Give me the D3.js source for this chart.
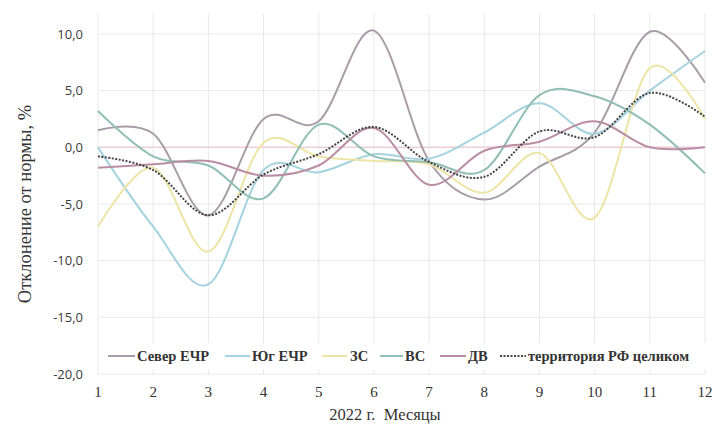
<!DOCTYPE html>
<html><head><meta charset="utf-8">
<script src="https://cdn.jsdelivr.net/npm/d3@7"></script>
<style>body{margin:0;background:#fff}svg{display:block}.serif{font-family:'Liberation Serif','Times New Roman',serif}</style>
</head><body><svg id="c" width="717" height="426"></svg>
<script>
const months = [1,2,3,4,5,6,7,8,9,10,11,12];
const yTicks = [10,5,0,-5,-10,-15,-20];
const seriesNames = ["Север ЕЧР","Юг ЕЧР","ЗС","ВС","ДВ","территория РФ целиком"];
const sever = [1.5,1.2,-6.0,2.5,2.3,10.3,-1.2,-4.6,-1.7,1.3,10.2,5.7];
const yug   = [0.0,-7.0,-12.1,-2.0,-2.2,-0.6,-1.0,1.3,3.9,1.2,5.0,8.5];
const zs    = [-7.0,-1.8,-9.2,0.4,-0.8,-1.2,-1.5,-4.0,-0.5,-6.2,7.0,2.5];
const vs    = [3.2,-0.8,-1.6,-4.5,2.0,-0.8,-1.3,-2.0,4.6,4.5,2.0,-2.3];
const dv    = [-1.8,-1.5,-1.2,-2.5,-1.6,1.7,-3.3,-0.3,0.5,2.3,0.0,0.0];
const rf    = [-0.8,-2.0,-6.0,-2.4,-0.6,1.8,-1.3,-2.6,1.4,0.9,4.8,2.7];
const seriesValues = [sever,yug,zs,vs,dv,rf];
const colors = ["#a89ca9","#a3d3de","#eee4a6","#8fbfb2","#b98ea3","#444444"];

const svg = d3.select("#c");
const x = d3.scaleLinear().domain([1,12]).range([98,705]);
const y = d3.scaleLinear().domain([-20,10]).range([374,34]);
const yTop = y(11.8);

svg.append("g").selectAll("line").data(months).join("line")
  .attr("x1",d=>x(d)).attr("x2",d=>x(d)).attr("y1",yTop).attr("y2",y(-20))
  .attr("stroke","#e8e8e8").attr("stroke-width",1);
svg.append("g").selectAll("line").data(yTicks).join("line")
  .attr("x1",x(1)).attr("x2",x(12)).attr("y1",d=>y(d)).attr("y2",d=>y(d))
  .attr("stroke",d=>d===0?"#ecd0d4":"#e8e8e8").attr("stroke-width",d=>d===0?1.5:1);

svg.append("g").selectAll("text").data(yTicks).join("text")
  .attr("x",83).attr("y",d=>y(d)+4.5).attr("text-anchor","end")
  .attr("font-family","Open Sans, sans-serif").attr("font-size",13).attr("fill","#3a3a3a")
  .text(d=>d3.format(".1f")(d).replace(".",",").replace("−","-"));
svg.append("g").selectAll("text").data(months).join("text").attr("class","serif")
  .attr("x",d=>x(d)).attr("y",397).attr("text-anchor","middle")
  .attr("font-size",15).attr("fill","#333")
  .text(d=>d);
svg.append("text").attr("class","serif").attr("x",385).attr("y",420).attr("text-anchor","middle")
  .attr("font-size",16.5).attr("fill","#333")
  .attr("xml:space","preserve").text("2022 г.  Месяцы");
svg.append("text").attr("class","serif").attr("transform","translate(31,"+y(-5)+") rotate(-90)")
  .attr("text-anchor","middle")
  .attr("font-size",18.5).attr("fill","#333").text("Отклонение от нормы, %");

const line = d3.line().x((d,i)=>x(months[i])).y(d=>y(d)).curve(d3.curveCardinal.tension(0));
seriesValues.forEach((vals,i)=>{
  svg.append("path").datum(vals).attr("d",line).attr("fill","none")
    .attr("stroke",colors[i]).attr("stroke-width",2)
    .attr("stroke-dasharray",i===5?"2,1.5":null);
});

const leg = svg.append("g");
leg.append("rect").attr("x",102).attr("y",343).attr("width",608).attr("height",26).attr("fill","#fff");
const legLine = [[108,135],[225,250],[322,347],[380,403],[440,466],[500,526]];
const legText = [137,252,350,405,468,528];
seriesNames.forEach((n,i)=>{
  leg.append("line").attr("x1",legLine[i][0]).attr("x2",legLine[i][1]).attr("y1",356).attr("y2",356)
    .attr("stroke",colors[i]).attr("stroke-width",2).attr("stroke-dasharray",i===5?"2,1.5":null);
  leg.append("text").attr("class","serif").attr("x",legText[i]).attr("y",361)
    .attr("font-weight","bold")
    .attr("font-size",14.5).attr("fill","#333").text(n);
});
</script></body></html>
